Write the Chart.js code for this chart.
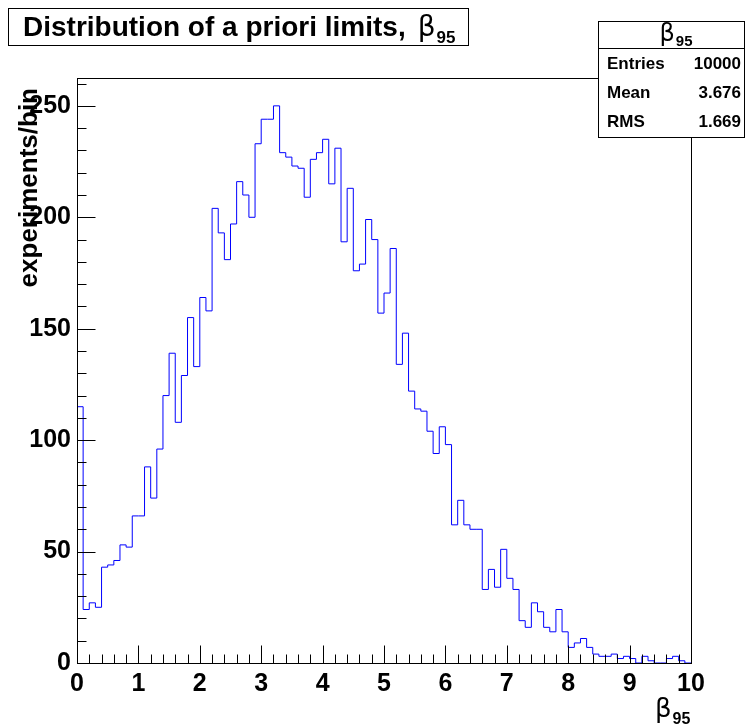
<!DOCTYPE html>
<html>
<head>
<meta charset="utf-8">
<script src="https://cdn.jsdelivr.net/npm/chart.js@4.4.1/dist/chart.umd.min.js"></script>
<style>
  html, body { margin: 0; padding: 0; background: #fff; }
  canvas { display: block; }
</style>
</head>
<body>
<canvas id="chart" width="745" height="728"></canvas>
<script>
// beta_95 histogram: 100 bins of width 0.1 between 0 and 10
const binWidth = 0.1;
const binCounts = [
  115, 24, 27, 25, 43, 44, 46, 53, 52, 66,
  66, 88, 74, 96, 120, 139, 108, 129, 155, 133,
  164, 158, 204, 193, 181, 197, 216, 210, 200, 233,
  244, 244, 250, 229, 227, 223, 222, 209, 226, 229,
  235, 215, 231, 189, 213, 176, 179, 199, 190, 157,
  166, 186, 134, 148, 122, 114, 113, 104, 94, 106,
  98, 62, 73, 62, 60, 60, 33, 42, 34, 51,
  38, 33, 19, 16, 27, 23, 16, 14, 24, 14,
  7, 9, 11, 7, 4, 3, 3, 4, 2, 3,
  2, 0, 3, 1, 0, 0, 2, 3, 1, 0
];
const xTickLabels = ['0', '1', '2', '3', '4', '5', '6', '7', '8', '9', '10'];
const yTickLabels = ['0', '50', '100', '150', '200', '250'];
const statsLabels = ['Entries', 'Mean', 'RMS'];
const statsValues = ['10000', '3.676', '1.669'];

const FONT = "'Liberation Sans', Arial, sans-serif";

// points at the left edge of every bin, plus the right edge of the last one
const points = binCounts.map((c, i) => ({ x: +(i * binWidth).toFixed(1), y: c }));
points.push({ x: 10, y: binCounts[binCounts.length - 1] });

function drawBeta(ctx, x, y, size, subSize, subDrop) {
  ctx.font = `${size}px 'DejaVu Sans', ${FONT}`;
  ctx.fillText('\u03b2', x, y);
  const w = ctx.measureText('\u03b2').width;
  ctx.font = `bold ${subSize}px ${FONT}`;
  ctx.fillText('95', x + w + 1, y + subDrop);
  return w + 1 + ctx.measureText('95').width;
}

const rootDecor = {
  id: 'rootDecor',
  afterDraw(chart) {
    const { ctx, chartArea: a, scales: { x, y } } = chart;
    ctx.save();
    ctx.strokeStyle = '#000';
    ctx.fillStyle = '#000';
    ctx.lineWidth = 1;

    // frame
    const L = Math.round(a.left) + 0.5, R = Math.round(a.right) + 0.5;
    const T = Math.round(a.top) + 0.5, B = Math.round(a.bottom) + 0.5;
    ctx.strokeRect(L, T, R - L, B - T);

    // ticks drawn inside the frame
    ctx.beginPath();
    for (let k = 0; k <= 50; k++) {
      const px = Math.round(x.getPixelForValue(k * 0.2)) + 0.5;
      const len = k % 5 === 0 ? 18 : 9;
      ctx.moveTo(px, B);
      ctx.lineTo(px, B - len);
    }
    for (let k = 0; k <= 26; k++) {
      const py = Math.round(y.getPixelForValue(k * 10)) + 0.5;
      const len = k % 5 === 0 ? 18 : 9;
      ctx.moveTo(L, py);
      ctx.lineTo(L + len, py);
    }
    ctx.stroke();

    // y axis title
    ctx.save();
    ctx.translate(37, 88);
    ctx.rotate(-Math.PI / 2);
    ctx.font = `bold 26px ${FONT}`;
    ctx.textAlign = 'right';
    ctx.textBaseline = 'alphabetic';
    ctx.fillText('experiments/bin', 0, 0);
    ctx.restore();

    // x axis title
    ctx.textAlign = 'left';
    ctx.textBaseline = 'alphabetic';
    drawBeta(ctx, 655, 717, 26, 16, 7);

    // title box
    ctx.fillStyle = '#fff';
    ctx.fillRect(8.5, 8.5, 460, 37);
    ctx.strokeRect(8.5, 8.5, 460, 37);
    ctx.fillStyle = '#000';
    ctx.font = `bold 28px ${FONT}`;
    const title = 'Distribution of a priori limits,';
    ctx.fillText(title, 23, 36);
    const tw = ctx.measureText(title).width;
    drawBeta(ctx, 23 + tw + 12, 36, 28, 17, 7);

    // stats box
    ctx.fillStyle = '#fff';
    ctx.fillRect(598.5, 21.5, 146, 116);
    ctx.strokeRect(598.5, 21.5, 146, 116);
    ctx.beginPath();
    ctx.moveTo(598.5, 48.5);
    ctx.lineTo(745, 48.5);
    ctx.stroke();
    ctx.fillStyle = '#000';
    ctx.font = `24px 'DejaVu Sans', ${FONT}`;
    const bw = ctx.measureText('\u03b2').width;
    ctx.font = `bold 15px ${FONT}`;
    const sw = ctx.measureText('95').width;
    drawBeta(ctx, 676 - (bw + 1 + sw) / 2, 41, 24, 15, 5);

    ctx.font = `bold 17px ${FONT}`;
    ctx.textBaseline = 'middle';
    const rowY = [64, 93, 122];
    statsLabels.forEach((lab, i) => {
      ctx.textAlign = 'left';
      ctx.fillText(lab, 607, rowY[i]);
      ctx.textAlign = 'right';
      ctx.fillText(statsValues[i], 741, rowY[i]);
    });
    ctx.restore();
  }
};

new Chart(document.getElementById('chart'), {
  type: 'line',
  data: {
    datasets: [{
      data: points,
      stepped: 'before',
      borderColor: '#0000ff',
      borderWidth: 1,
      pointRadius: 0,
      fill: false
    }]
  },
  options: {
    responsive: false,
    devicePixelRatio: 1,
    animation: false,
    layout: { padding: { left: 0, top: 78, right: 54, bottom: 0 } },
    plugins: { legend: { display: false }, tooltip: { enabled: false }, title: { display: false } },
    scales: {
      x: {
        type: 'linear',
        min: 0,
        max: 10,
        afterBuildTicks: s => { s.ticks = xTickLabels.map(t => ({ value: Number(t) })); },
        afterFit: s => { s.height = 65; },
        grid: { display: false, drawTicks: false },
        border: { display: false },
        ticks: {
          color: '#000',
          font: { family: FONT, size: 25, weight: 'bold' },
          padding: 6,
          maxRotation: 0,
          autoSkip: false,
          callback: (v, i) => xTickLabels[i]
        }
      },
      y: {
        type: 'linear',
        min: 0,
        max: 262.5,
        afterBuildTicks: s => { s.ticks = yTickLabels.map(t => ({ value: Number(t) })); },
        afterFit: s => { s.width = 77; },
        grid: { display: false, drawTicks: false },
        border: { display: false },
        ticks: {
          color: '#000',
          font: { family: FONT, size: 25, weight: 'bold' },
          padding: 6,
          autoSkip: false,
          callback: (v, i) => yTickLabels[i]
        }
      }
    }
  },
  plugins: [rootDecor]
});
</script>
</body>
</html>
